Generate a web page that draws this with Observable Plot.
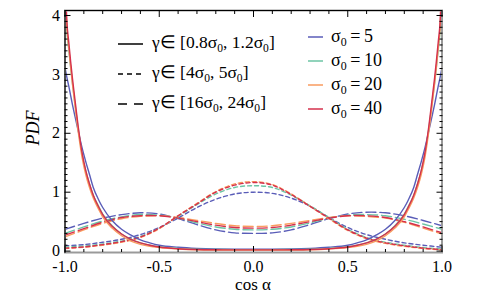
<!DOCTYPE html>
<html><head><meta charset="utf-8">
<script src="https://cdn.jsdelivr.net/npm/d3@7"></script>
<script src="https://cdn.jsdelivr.net/npm/@observablehq/plot@0.6"></script>
<style>
body{margin:0;background:#fff;}
#wrap{position:relative;width:477px;height:300px;font-family:"Liberation Serif","Times New Roman",serif;color:#000;}
#wrap svg{display:block;}
.ov{position:absolute;white-space:nowrap;line-height:1;}
.ov sub{font-size:0.66em;vertical-align:-0.34em;line-height:0;}
</style></head><body><div id="wrap"></div>
<script>
// ---------- data ----------
const sigmaLabels = ["5", "10", "20", "40"];
const sigmaColors = ["#5a5db8", "#6cc4a4", "#f99b5f", "#d5304c"];
const gammaLabels = ["[0.8σ<sub>0</sub>, 1.2σ<sub>0</sub>]", "[4σ<sub>0</sub>, 5σ<sub>0</sub>]", "[16σ<sub>0</sub>, 24σ<sub>0</sub>]"];
const xMajor = [-1, -0.5, 0, 0.5, 1];
const xMinor = [-0.9,-0.8,-0.7,-0.6,-0.4,-0.3,-0.2,-0.1,0.1,0.2,0.3,0.4,0.6,0.7,0.8,0.9];
const yMajor = [0, 1, 2, 3, 4];
const yMinor = [0.1,0.2,0.3,0.4,0.5,0.6,0.7,0.8,0.9,1.1,1.2,1.3,1.4,1.5,1.6,1.7,1.8,1.9,2.1,2.2,2.3,2.4,2.5,2.6,2.7,2.8,2.9,3.1,3.2,3.3,3.4,3.5,3.6,3.7,3.8,3.9,4.0];

// solid: gamma in [0.8 s0, 1.2 s0]
const xSolid = [-1,-0.99,-0.98,-0.97,-0.96,-0.95,-0.93,-0.91,-0.89,-0.87,-0.85,-0.82,-0.8,-0.75,-0.7,-0.65,-0.6,-0.55,-0.5,-0.4,-0.3,-0.2,-0.1,0,
                0.1,0.2,0.3,0.4,0.5,0.55,0.6,0.65,0.7,0.75,0.8,0.82,0.85,0.87,0.89,0.91,0.93,0.95,0.96,0.97,0.98,0.99,1];
const solid5  = [3.12,2.95,2.80,2.64,2.48,2.33,2.04,1.76,1.52,1.30,1.08,0.86,0.74,0.52,0.37,0.27,0.19,0.14,0.10,0.065,0.045,0.035,0.032,0.03,
                 0.032,0.035,0.045,0.065,0.10,0.14,0.19,0.27,0.37,0.52,0.74,0.86,1.08,1.30,1.52,1.76,2.04,2.33,2.48,2.64,2.80,2.95,3.12];
const solid10 = [4.5,3.75,3.42,3.12,2.84,2.58,2.08,1.66,1.36,1.14,0.95,0.75,0.63,0.43,0.29,0.20,0.14,0.10,0.075,0.045,0.032,0.027,0.025,0.025,
                 0.025,0.027,0.032,0.045,0.075,0.10,0.14,0.20,0.29,0.43,0.63,0.75,0.95,1.14,1.36,1.66,2.08,2.58,2.84,3.12,3.42,3.75,4.5];
const solid20 = [4.6,3.8,3.45,3.12,2.82,2.55,2.03,1.60,1.30,1.08,0.90,0.70,0.58,0.39,0.26,0.17,0.115,0.08,0.06,0.035,0.022,0.018,0.017,0.017,
                 0.017,0.018,0.022,0.035,0.06,0.08,0.115,0.17,0.26,0.39,0.58,0.70,0.90,1.08,1.30,1.60,2.03,2.55,2.82,3.12,3.45,3.8,4.6];
const solid40 = [4.8,3.9,3.55,3.22,2.92,2.65,2.12,1.68,1.37,1.14,0.95,0.74,0.62,0.42,0.29,0.20,0.14,0.10,0.07,0.04,0.027,0.022,0.02,0.02,
                 0.02,0.022,0.027,0.04,0.07,0.10,0.14,0.20,0.29,0.42,0.62,0.74,0.95,1.14,1.37,1.68,2.12,2.65,2.92,3.22,3.55,3.9,4.8];

// dashed grid
const xDash = [-1,-0.9,-0.8,-0.7,-0.6,-0.5,-0.4,-0.3,-0.2,-0.1,0,0.1,0.2,0.3,0.4,0.5,0.6,0.7,0.8,0.9,1];
// short dashes: gamma in [4 s0, 5 s0]
const short5  = [0.09,0.11,0.15,0.20,0.28,0.40,0.56,0.74,0.88,0.97,1.00,0.98,0.90,0.76,0.57,0.40,0.28,0.20,0.14,0.10,0.065];
const short10 = [0.07,0.085,0.12,0.17,0.25,0.39,0.59,0.79,0.97,1.08,1.11,1.08,0.95,0.77,0.57,0.37,0.23,0.15,0.10,0.06,0.035];
const short20 = [0.045,0.065,0.10,0.15,0.23,0.38,0.60,0.81,1.01,1.14,1.18,1.13,0.97,0.76,0.55,0.35,0.21,0.13,0.08,0.045,0.02];
const short40 = [0.05,0.07,0.11,0.16,0.24,0.39,0.60,0.80,1.00,1.12,1.165,1.12,0.96,0.76,0.56,0.36,0.22,0.14,0.09,0.05,0.025];
// long dashes: gamma in [16 s0, 24 s0]
const long5  = [0.37,0.47,0.56,0.62,0.65,0.63,0.55,0.45,0.36,0.31,0.30,0.31,0.36,0.45,0.55,0.63,0.66,0.65,0.60,0.52,0.43];
const long10 = [0.30,0.41,0.51,0.58,0.62,0.61,0.56,0.48,0.41,0.37,0.36,0.37,0.41,0.48,0.56,0.61,0.62,0.60,0.54,0.46,0.37];
const long20 = [0.24,0.36,0.47,0.55,0.59,0.60,0.57,0.52,0.47,0.43,0.42,0.43,0.47,0.52,0.57,0.60,0.59,0.56,0.49,0.39,0.29];
const long40 = [0.27,0.38,0.49,0.57,0.60,0.60,0.56,0.50,0.44,0.40,0.39,0.40,0.44,0.50,0.56,0.60,0.60,0.57,0.50,0.41,0.31];

// ---------- build tables ----------
function rowsOf(xs, list) {
  const out = [];
  list.forEach((vals, k) => xs.forEach((x, i) => out.push({sigma: sigmaLabels[k], x, y: vals[i]})));
  return out;
}
const solidRows = rowsOf(xSolid, [solid5, solid10, solid20, solid40]);
const shortRows = rowsOf(xDash, [short5, short10, short20, short40]);
const longRows  = rowsOf(xDash, [long5, long10, long20, long40]);

const lw = 1.4;
const chart = Plot.plot({
  width: 477, height: 300,
  marginLeft: 64.5, marginRight: 35.5, marginTop: 10, marginBottom: 48,
  style: {fontFamily: "'Liberation Serif', 'Times New Roman', serif", fontSize: "16px", color: "#000", background: "transparent", overflow: "visible"},
  x: {domain: [-1, 1]},
  y: {domain: [-0.024, 4.085]},
  color: {domain: sigmaLabels, range: sigmaColors},
  marks: [
    Plot.line(longRows, {x: "x", y: "y", z: "sigma", stroke: "sigma", strokeWidth: lw, strokeDasharray: "10,4", curve: "catmull-rom", clip: true}),
    Plot.line(shortRows, {x: "x", y: "y", z: "sigma", stroke: "sigma", strokeWidth: lw, strokeDasharray: "4,3", curve: "catmull-rom", clip: true}),
    Plot.line(solidRows, {x: "x", y: "y", z: "sigma", stroke: "sigma", strokeWidth: lw, curve: "monotone-x", clip: true}),
    Plot.frame({stroke: "#9a9a9a", strokeWidth: 2}),
    Plot.frame({anchor: "top", stroke: "#000"}),
    Plot.frame({anchor: "left", stroke: "#000"}),
    // labels
    Plot.axisX({anchor: "bottom", ticks: xMajor, tickSize: 0, tickPadding: 8, tickFormat: d => d.toFixed(1), label: null, fontSize: 16}),
    Plot.axisY({anchor: "left", ticks: yMajor, tickSize: 0, tickPadding: 5, tickFormat: d => String(d), label: null, fontSize: 16}),
    // inward ticks
    Plot.axisX({anchor: "bottom", ticks: xMajor, tickSize: -6, tickFormat: () => "", label: null}),
    Plot.axisX({anchor: "bottom", ticks: xMinor, tickSize: -3, tickFormat: () => "", label: null}),
    Plot.axisX({anchor: "top", ticks: xMajor, tickSize: -6, tickFormat: () => "", label: null}),
    Plot.axisX({anchor: "top", ticks: xMinor, tickSize: -3, tickFormat: () => "", label: null}),
    Plot.axisY({anchor: "left", ticks: yMajor, tickSize: -6, tickFormat: () => "", label: null}),
    Plot.axisY({anchor: "left", ticks: yMinor, tickSize: -3, tickFormat: () => "", label: null}),
    Plot.axisY({anchor: "right", ticks: yMajor, tickSize: -6, tickFormat: () => "", label: null}),
    Plot.axisY({anchor: "right", ticks: yMinor, tickSize: -3, tickFormat: () => "", label: null})
  ]
});
const wrap = document.getElementById("wrap");
wrap.appendChild(chart);

// ---------- overlay texts & legends ----------
function addDiv(html, css) {
  const d = document.createElement("div");
  d.className = "ov"; d.innerHTML = html; d.style.cssText = css;
  wrap.appendChild(d); return d;
}
addDiv("PDF", "left:33px;top:128px;font-size:18px;font-style:italic;transform:translate(-50%,-50%) rotate(-90deg);");
addDiv("cos α", "left:253px;top:284px;font-size:17px;transform:translate(-50%,-50%);");

// legend samples (svg overlay)
const ns = "http://www.w3.org/2000/svg";
const lsvg = document.createElementNS(ns, "svg");
lsvg.setAttribute("width", 477); lsvg.setAttribute("height", 300);
lsvg.style.cssText = "position:absolute;left:0;top:0;pointer-events:none;";
wrap.appendChild(lsvg);
function seg(x1, x2, y, color, dash) {
  const l = document.createElementNS(ns, "line");
  l.setAttribute("x1", x1); l.setAttribute("x2", x2); l.setAttribute("y1", y); l.setAttribute("y2", y);
  l.setAttribute("stroke", color); l.setAttribute("stroke-width", 1.5);
  if (dash) l.setAttribute("stroke-dasharray", dash);
  lsvg.appendChild(l);
}
const styleDash = [null, "5,4", "9,7"];
gammaLabels.forEach((g, i) => {
  const cy = 44 + i * 30;
  seg(118, 143, cy, "#000", styleDash[i]);
  addDiv("γ∈ " + g, `left:152px;top:${cy}px;font-size:17.5px;transform:translateY(-55%);`);
});
sigmaLabels.forEach((s, i) => {
  const cy = 37 + i * 24;
  seg(308, 323, cy, sigmaColors[i], null);
  addDiv(`σ<sub>0</sub>&thinsp;=&thinsp;${s}`, `left:331px;top:${cy}px;font-size:18px;transform:translateY(-55%);`);
});
</script></body></html>
